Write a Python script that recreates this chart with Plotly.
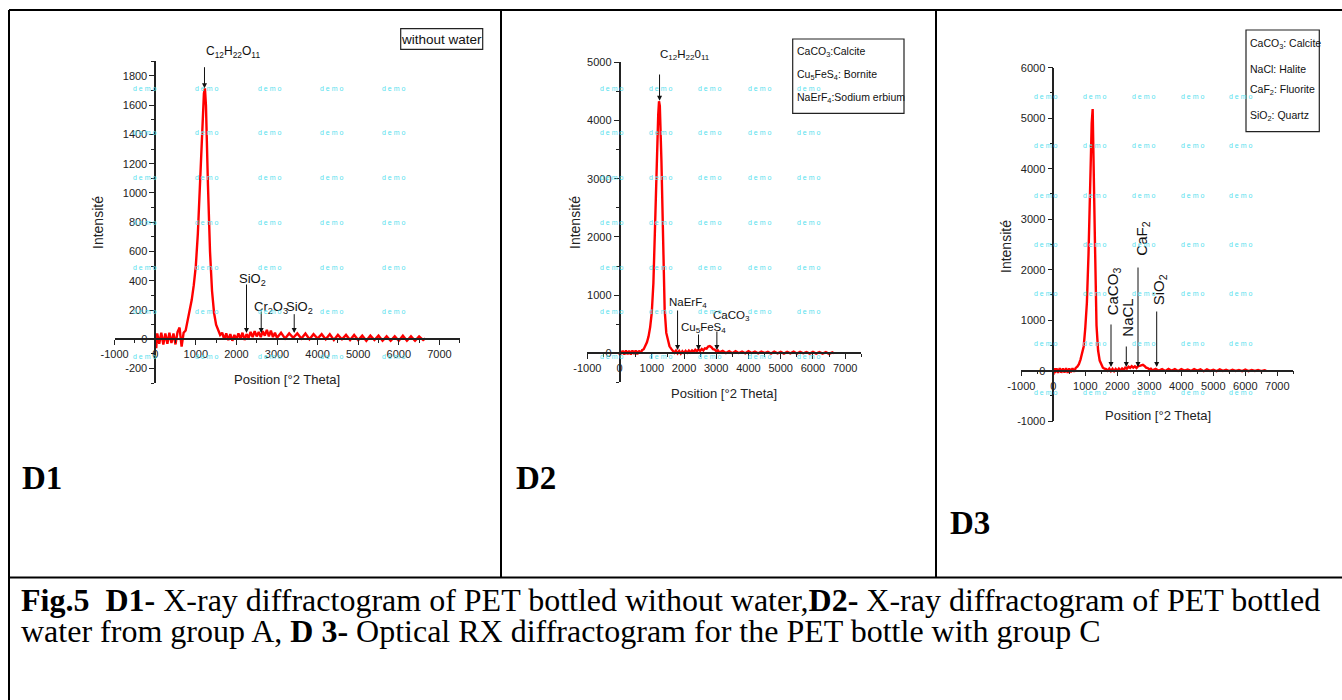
import plotly.graph_objects as go

W, H = 1342, 700
def fx(px): return px / W
def fy(py): return 1 - py / H

SANS = "Liberation Sans, Arial, sans-serif"
SERIF = "Liberation Serif, Times New Roman, serif"

# ---------------- data ----------------
d1_x = [0, 25, 50, 100, 150, 200, 250, 300, 350, 400, 450, 500, 550, 600, 650, 700, 750, 800, 850, 900,
        950, 1000, 1050, 1100, 1150, 1200, 1225, 1250, 1300, 1350, 1400, 1450, 1500, 1550, 1600, 1650,
        1700, 1750, 1800, 1850, 1900, 1950, 2000, 2050, 2100, 2150, 2200, 2250, 2300, 2350, 2400, 2450,
        2500, 2550, 2600, 2650, 2700, 2750, 2800, 2850, 2900, 2950, 3000, 3100, 3200, 3300, 3400, 3500,
        3600, 3700, 3800, 3900, 4000, 4100, 4200, 4300, 4400, 4500, 4600, 4700, 4800, 4900, 5000, 5100,
        5200, 5300, 5400, 5500, 5600, 5700, 5800, 5900, 6000, 6100, 6200, 6300, 6400, 6500, 6600, 6650]
d1_y = [10, -60, 40, -30, 45, -35, 40, -30, 45, -25, 40, -35, 50, 80, -50, 45, 60, 130, 190, 270,
        370, 500, 720, 1080, 1400, 1680, 1715, 1600, 1050, 600, 330, 180, 100, 60, 30, 45,
        0, 40, -5, 35, -10, 30, 0, 40, 5, 45, -5, 35, 10, 50, 15, 55,
        20, 50, 15, 55, 25, 65, 20, 60, 15, 45, 10, 45, 5, 40, 10, 40,
        5, 40, 0, 35, 5, 35, 0, 35, -5, 30, 0, 30, -5, 30, -5, 25,
        -10, 25, -5, 25, -10, 20, -10, 20, -10, 25, -10, 20, -10, 20, -5, 5]

d2_x = [0, 25, 50, 100, 150, 200, 250, 300, 350, 400, 450, 500, 550, 600, 650, 700, 750, 800, 850, 900,
        950, 1000, 1050, 1100, 1150, 1200, 1225, 1250, 1300, 1350, 1400, 1450, 1500, 1550, 1600, 1650,
        1700, 1750, 1800, 1850, 1900, 1950, 2000, 2050, 2100, 2150, 2200, 2250, 2300, 2350, 2400, 2450,
        2500, 2550, 2600, 2650, 2700, 2750, 2800, 2850, 2900, 2950, 3000, 3050, 3100, 3200, 3300, 3400,
        3500, 3600, 3700, 3800, 3900, 4000, 4100, 4200, 4300, 4400, 4500, 4600, 4700, 4800, 4900, 5000,
        5100, 5200, 5300, 5400, 5500, 5600, 5700, 5800, 5900, 6000, 6100, 6200, 6300, 6400, 6500, 6600, 6650]
d2_y = [-30, 40, -10, 45, -20, 50, -15, 45, -20, 50, -10, 50, -15, 45, 0, 55, 70, 120, 190, 290,
        450, 700, 1200, 2150, 3300, 4100, 4330, 4250, 3300, 1700, 750, 350, 200, 120, 80, 50,
        10, 45, 0, 40, -5, 35, 5, 40, 10, 45, 15, 50, 25, 60, 35, 70,
        40, 75, 50, 85, 80, 115, 125, 105, 70, 65, 35, 50, 15, 40, 5, 35,
        0, 35, 5, 30, 0, 35, 5, 30, 0, 30, 5, 25, -5, 30, 0, 25,
        -5, 25, 0, 30, -5, 25, 0, 20, -5, 25, -5, 20, -5, 20, -10, 15, 0]

d3_x = [0, 25, 50, 100, 150, 200, 250, 300, 350, 400, 450, 500, 550, 600, 650, 700, 750, 800, 850, 900,
        950, 1000, 1050, 1100, 1150, 1200, 1230, 1260, 1300, 1350, 1400, 1450, 1500, 1550, 1600, 1650,
        1700, 1750, 1800, 1850, 1900, 1950, 2000, 2050, 2100, 2150, 2200, 2250, 2300, 2350, 2400, 2450,
        2500, 2550, 2600, 2650, 2700, 2750, 2800, 2850, 2900, 2950, 3000, 3050, 3100, 3200, 3300, 3400,
        3500, 3600, 3700, 3800, 3900, 4000, 4100, 4200, 4300, 4400, 4500, 4600, 4700, 4800, 4900, 5000,
        5100, 5200, 5300, 5400, 5500, 5600, 5700, 5800, 5900, 6000, 6100, 6200, 6300, 6400, 6500, 6600, 6650]
d3_y = [-80, 50, -40, 45, -45, 50, -40, 45, -35, 50, -45, 45, -30, 50, -20, 55, 80, 130, 220, 330,
        480, 850, 1350, 2300, 3800, 4900, 5180, 4300, 2600, 900, 400, 200, 110, 60, 40, 30,
        0, 40, -10, 35, -10, 35, 0, 40, 5, 45, 15, 60, 40, 80, 55, 90,
        60, 85, 55, 90, 95, 110, 115, 95, 60, 50, 25, 40, 5, 35, 0, 30,
        -5, 35, 0, 30, -5, 30, 0, 25, -5, 30, 0, 25, -10, 25, -5, 20,
        -10, 25, -5, 20, -10, 20, -5, 15, -10, 20, -10, 15, -5, 15, -10, 10, 0]

# tick labels
x_ticks = [-1000, 0, 1000, 2000, 3000, 4000, 5000, 6000, 7000]
d1_yticks = [-200, 0, 200, 400, 600, 800, 1000, 1200, 1400, 1600, 1800]
d2_yticks = [0, 1000, 2000, 3000, 4000, 5000]
d3_yticks = [-1000, 0, 1000, 2000, 3000, 4000, 5000, 6000]

# peak arrows: (arrow x, arrow tail y, arrow head y) in data units
d1_arrows = [(1214, 1870, 1715), (2249, 385, 43), (2611, 200, 43), (3424, 182, 43)]
d2_arrows = [(1241, 4816, 4340), (1800, 761, 57), (2450, 349, 57), (3020, 400, 57)]
d3_arrows = [(1803, 945, 73), (2281, 509, 73), (2647, 2073, 73), (3231, 1202, 73)]
d1_labels = ["C<sub>12</sub>H<sub>22</sub>O<sub>11</sub>", "SiO<sub>2</sub>",
             "Cr<sub>2</sub>O<sub>3</sub>", "SiO<sub>2</sub>"]
d2_labels = ["C<sub>12</sub>H<sub>22</sub>0<sub>11</sub>", "NaErF<sub>4</sub>",
             "Cu<sub>5</sub>FeS<sub>4</sub>", "CaCO<sub>3</sub>"]
d3_labels = ["CaCO<sub>3</sub>", "NaCL", "CaF<sub>2</sub>", "SiO<sub>2</sub>"]

d1_legend = ["without water"]
d2_legend = ["CaCO<sub>3</sub>:Calcite", "Cu<sub>5</sub>FeS<sub>4</sub>: Bornite",
             "NaErF<sub>4</sub>:Sodium erbium"]
d3_legend = ["CaCO<sub>3</sub>: Calcite", "NaCl: Halite", "CaF<sub>2</sub>: Fluorite", "SiO<sub>2</sub>: Quartz"]

x_title = "Position [°2 Theta]"
y_title = "Intensité"
caption1 = "<b>Fig.5\u00a0 D1-</b> X-ray diffractogram of PET bottled without water,<b>D2-</b> X-ray diffractogram of PET bottled"
caption2 = "water from group A, <b>D 3-</b> Optical RX diffractogram for the PET bottle with group C"

# ---------------- geometry ----------------
panels = [
    dict(sfx="", x=d1_x, y=d1_y, xpx=(114.6, 459.7), ypx=(383.2, 61.3), yr=[-300, 1900],
         yt=d1_yticks, ymn=100),
    dict(sfx="2", x=d2_x, y=d2_y, xpx=(587.3, 861.3), ypx=(382.4, 62.3), yr=[-500, 5000],
         yt=d2_yticks, ymn=500),
    dict(sfx="3", x=d3_x, y=d3_y, xpx=(1021.3, 1293.3), ypx=(421.2, 67.7), yr=[-1000, 6000],
         yt=d3_yticks, ymn=500),
]
XR = [-1000, 7500]

fig = go.Figure()
layout = dict(template="none", width=W, height=H, margin=dict(l=0, r=0, t=0, b=0, pad=0), autosize=False,
              paper_bgcolor="white", plot_bgcolor="rgba(0,0,0,0)", showlegend=False)
annotations = []
shapes = []

TICKFONT = dict(family=SANS, size=11, color="#222")
for p in panels:
    s = p["sfx"]
    x0p, x1p = p["xpx"]
    yb, yt = p["ypx"]
    yr = p["yr"]
    zero_ypx = yb + (yt - yb) * (0 - yr[0]) / (yr[1] - yr[0])
    zero_xpx = x0p + (x1p - x0p) * (0 - XR[0]) / (XR[1] - XR[0])
    fig.add_trace(go.Scatter(x=p["x"], y=p["y"], mode="lines",
                             line=dict(color="#ff0000", width=2.4),
                             xaxis="x" + s, yaxis="y" + s, hoverinfo="skip"))
    layout["xaxis" + s] = dict(domain=[fx(x0p), fx(x1p)], range=XR, anchor="free", automargin=False,
                               position=fy(zero_ypx), showgrid=False, zeroline=False,
                               showline=True, linecolor="#222", linewidth=1.5,
                               ticks="outside", ticklen=5, tickwidth=1.2, tickcolor="#222",
                               tickmode="array", tickvals=x_ticks, ticktext=[str(v) for v in x_ticks],
                               minor=dict(ticks="outside", ticklen=3, dtick=500, tick0=0,
                                          tickcolor="#222", showgrid=False),
                               tickfont=TICKFONT, fixedrange=True)
    layout["yaxis" + s] = dict(domain=[fy(yb), fy(yt)], range=yr, anchor="free", automargin=False,
                               position=fx(zero_xpx), showgrid=False, zeroline=False,
                               showline=True, linecolor="#222", linewidth=1.5,
                               ticks="outside", ticklen=5, tickwidth=1.2, tickcolor="#222",
                               tickmode="array", tickvals=p["yt"], ticktext=[str(v) for v in p["yt"]],
                               minor=dict(ticks="outside", ticklen=3, dtick=p["ymn"], tick0=0,
                                          tickcolor="#222", showgrid=False),
                               tickfont=TICKFONT, fixedrange=True)

# axis titles
titles = [((286.7, 379), (98, 223)), ((724, 393.3), (575, 223)), ((1157.7, 415), (1006, 247))]
for (xt, yt_) in titles:
    annotations.append(dict(text=x_title, x=fx(xt[0]), y=fy(xt[1]), xref="paper", yref="paper",
                            showarrow=False, xanchor="center", yanchor="middle",
                            font=dict(family=SANS, size=13, color="#222")))
    annotations.append(dict(text=y_title, x=fx(yt_[0]), y=fy(yt_[1]), xref="paper", yref="paper",
                            showarrow=False, xanchor="center", yanchor="middle", textangle=-90,
                            font=dict(family=SANS, size=14, color="#222")))

# label placements (pixel positions of text), sizes
label_layout = [
    ("", d1_arrows, d1_labels, [(204, 52), (237, 279), (251.7, 307), (284, 307)], 13, False),
    ("2", d2_arrows, d2_labels, [(658, 55), (666.7, 303), (679, 328), (710.7, 316)], 11.5, False),
    ("3", d3_arrows, d3_labels, [(1113.3, 291), (1126.7, 318), (1141.7, 239), (1159.3, 290)], 15, True),
]
for s, arrows, labels, pos, fsize, rot in label_layout:
    xr_, yr_ = "x" + s, "y" + s
    for (ax_x, tail, head), txt, (lx, ly) in zip(arrows, labels, pos):
        annotations.append(dict(text="", x=ax_x, y=head, ax=ax_x, ay=tail, xref=xr_, yref=yr_,
                                axref=xr_, ayref=yr_, showarrow=True, arrowhead=2, arrowsize=1,
                                arrowwidth=1, arrowcolor="#111", standoff=0))
        if rot:
            annotations.append(dict(text=txt, x=fx(lx), y=fy(ly), xref="paper", yref="paper",
                                    showarrow=False, textangle=-90, xanchor="center", yanchor="middle",
                                    font=dict(family=SANS, size=fsize, color="#111")))
        else:
            annotations.append(dict(text=txt, x=fx(lx), y=fy(ly), xref="paper", yref="paper",
                                    showarrow=False, xanchor="left", yanchor="middle",
                                    font=dict(family=SANS, size=(12 if txt.startswith("C<sub>12") and s == "" else fsize),
                                              color="#111")))

# legend boxes
boxes = [((400.7, 28.7, 482.7, 49.3), d1_legend, [39], "center", 13.5),
         ((792.7, 39, 904, 113.3), d2_legend, [52, 75, 98], "left", 10.5),
         ((1246, 30, 1319.3, 131.7), d3_legend, [44, 69, 90, 116], "left", 10.5)]
for (bx0, by0, bx1, by1), lines, ys, al, fs in boxes:
    shapes.append(dict(type="rect", xref="paper", yref="paper", x0=fx(bx0), x1=fx(bx1),
                       y0=fy(by1), y1=fy(by0), line=dict(color="#222", width=1.2)))
    for t, yy in zip(lines, ys):
        xx = (bx0 + bx1) / 2 if al == "center" else bx0 + 2
        annotations.append(dict(text=t, x=fx(xx), y=fy(yy), xref="paper", yref="paper",
                                showarrow=False, xanchor=al, yanchor="middle",
                                font=dict(family=SANS, size=fs, color="#111")))

# "demo" watermarks
wm = [([144, 206.7, 269, 331, 393.3], [89, 133, 177.7, 222.7, 267.7, 311.7, 356.7]),
      ([611, 660, 709.3, 759, 808.3], [89, 132.7, 177.7, 222.7, 267.7, 311.7, 356.7]),
      ([1045, 1094, 1143.3, 1192, 1240.7], [96.7, 145.7, 195.7, 245, 294, 343.3, 392.7])]
for cols, rows in wm:
    for cx in cols:
        for ry in rows:
            annotations.append(dict(text="d e m o", x=fx(cx), y=fy(ry), xref="paper", yref="paper",
                                    showarrow=False, xanchor="center", yanchor="middle",
                                    font=dict(family=SANS, size=7, color="#55e0ee")))

# panel labels
for t, cx, cy in [("D1", 42, 478), ("D2", 536, 478), ("D3", 970, 523)]:
    annotations.append(dict(text="<b>" + t + "</b>", x=fx(cx), y=fy(cy), xref="paper", yref="paper",
                            showarrow=False, xanchor="center", yanchor="middle",
                            font=dict(family=SERIF, size=33, color="#000")))

# caption
for txt, cy in [(caption1, 600), (caption2, 631)]:
    annotations.append(dict(text=txt, x=fx(19), y=fy(cy), xref="paper", yref="paper", showarrow=False,
                            xanchor="left", yanchor="middle", font=dict(family=SERIF, size=32, color="#000")))

# table borders
for (x0, y0, x1, y1) in [(9, 10, 1342, 10), (9, 10, 9, 700), (501, 10, 501, 577),
                         (936, 10, 936, 577), (9, 577.5, 1342, 577.5)]:
    shapes.append(dict(type="line", xref="paper", yref="paper", x0=fx(x0), y0=fy(y0), x1=fx(x1), y1=fy(y1),
                       line=dict(color="#000", width=2)))

layout["annotations"] = annotations
layout["shapes"] = shapes
fig.update_layout(**layout)
fig.write_html("out.html")
